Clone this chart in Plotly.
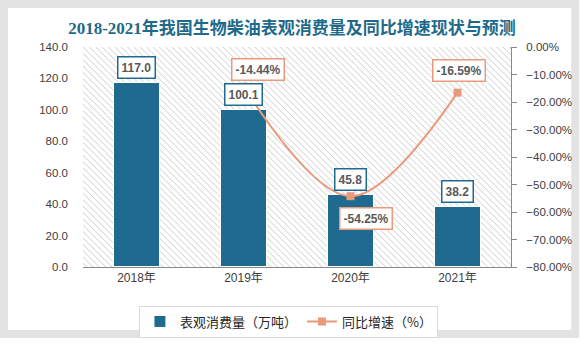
import plotly.graph_objects as go

# ---- data ----
years = ["2018年", "2019年", "2020年", "2021年"]
consumption = [117.0, 100.1, 45.8, 38.2]          # 表观消费量（万吨）
growth = [None, -14.44, -54.25, -16.59]          # 同比增速（%）
bar_name = "表观消费量（万吨）"
line_name = "同比增速（%）"
title_text = "2018-2021年我国生物柴油表观消费量及同比增速现状与预测"

BAR = "#1F6B8F"
LINE = "#EA9A7C"
TXT = "#404040"
LBL = "#595959"

fig = go.Figure()
# decorative hatched background filling the plot area (base subplot, hidden axes)
fig.add_trace(go.Bar(
    x=[0.5], y=[1], width=[1], xaxis="x", yaxis="y", showlegend=False, hoverinfo="skip",
    marker=dict(color="white", line=dict(width=0),
                pattern=dict(shape="\\", fgcolor="#C6C6C6", bgcolor="white", size=4.5,
                             solidity=0.2, fillmode="replace")),
))
fig.add_trace(go.Bar(
    x=years, y=consumption, name=bar_name, width=0.43,
    marker=dict(color=BAR, line=dict(color="white", width=1)),
    xaxis="x2", yaxis="y2",
))
fig.add_trace(go.Scatter(
    x=years, y=growth, name=line_name, xaxis="x2", yaxis="y3",
    mode="lines+markers", line=dict(color=LINE, width=2, shape="spline"),
    marker=dict(symbol="square", size=8, color=LINE),
))

# data labels
label_font = dict(family="Liberation Sans, Arial, sans-serif", size=12, color=LBL)
for xv, v in zip(years, consumption):
    fig.add_annotation(x=xv, y=v, xref="x2", yref="y2", text=f"<b>{v:.1f}</b>",
                       showarrow=False, yanchor="bottom", yshift=4,
                       bgcolor="white", bordercolor=BAR, borderwidth=1.5,
                       borderpad=3, font=label_font)
offsets = {1: (14, 17), 2: (15, -22), 3: (1, 22)}
for i, (xv, v) in enumerate(zip(years, growth)):
    if v is None:
        continue
    dx, dy = offsets[i]
    fig.add_annotation(x=xv, y=v, xref="x2", yref="y3", text=f"<b>{v:.2f}%</b>",
                       showarrow=False, xshift=dx, yshift=dy,
                       bgcolor="white", bordercolor=LINE, borderwidth=1.5,
                       borderpad=3, font=label_font)

tick_font = dict(family="Liberation Sans, Arial, sans-serif", size=11.5, color=TXT)

fig.update_layout(
    width=584, height=350,
    margin=dict(l=83, r=68, t=47, b=73),
    paper_bgcolor="white", plot_bgcolor="white",
    bargap=0,
    title=dict(text=f"<b>{title_text}</b>", x=0.5, xanchor="center", y=0.921, yanchor="middle",
               font=dict(family="Liberation Serif, Times New Roman, Noto Sans CJK SC", size=17,
                         color="#1F6A8A")),
    xaxis=dict(range=[0, 1], visible=False, fixedrange=True),
    yaxis=dict(range=[0, 1], visible=False, fixedrange=True),
    xaxis2=dict(type="category", overlaying="x", side="bottom", anchor="y2",
                showgrid=False, showline=True, linecolor="#898989",
                linewidth=1, ticks="", tickfont=dict(family="Liberation Sans, Noto Sans CJK SC",
                                                     size=12, color=TXT)),
    yaxis2=dict(range=[0, 140], dtick=20, tickformat=".1f", overlaying="y", side="left",
                anchor="x2", showgrid=False, showline=False,
                zeroline=False, ticks="", tickfont=tick_font, ticklabelstandoff=14),
    yaxis3=dict(range=[-80, 0], dtick=10, tickformat=".2f", ticksuffix="%", overlaying="y",
                side="right", anchor="x2", showgrid=False, showline=True, linecolor="#898989",
                linewidth=1, zeroline=False, ticks="outside", ticklen=5, tickcolor="#898989",
                tickfont=tick_font, ticklabelstandoff=7),
    showlegend=True,
    legend=dict(orientation="h", x=0.48, xanchor="center", y=-0.175, yanchor="top",
                bordercolor="#D9D9D9", borderwidth=1, bgcolor="white",
                font=dict(family="Noto Sans CJK SC, sans-serif", size=13, color="#262626"),
                traceorder="normal"),
    shapes=[
        dict(type="rect", xref="paper", yref="paper",
             x0=(3 - 83) / 433, x1=(581 - 83) / 433,
             y0=(277 - 347) / 230, y1=(277 - 2) / 230,
             line=dict(color="#E3E3E3", width=8), fillcolor="rgba(0,0,0,0)", layer="below"),
    ],
)

fig.write_html("out.html")
